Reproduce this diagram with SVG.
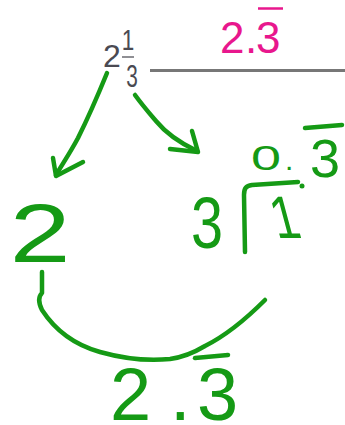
<svg xmlns="http://www.w3.org/2000/svg" width="345" height="425" viewBox="0 0 345 425">
<style>
.pen{fill:none;stroke:#159A15;stroke-width:4.5;stroke-linecap:round;stroke-linejoin:round}
.hw{font-family:"Liberation Sans",Arial,sans-serif;fill:#159A15}
.typed{font-family:"Liberation Sans",Arial,sans-serif;fill:#4a4a52}
.pink{font-family:"Liberation Sans",Arial,sans-serif;fill:#E8178D}
</style>
<rect width="345" height="425" fill="#ffffff"/>
<g id="header">
  <text class="typed" x="103" y="67" font-size="32">2</text>
  <text class="typed" x="128" y="50" font-size="30" text-anchor="middle" transform="translate(128 0) scale(0.75 1) translate(-128 0)">1</text>
  <line x1="122" y1="57" x2="134" y2="57" stroke="#6a6a70" stroke-width="1.5"/>
  <text class="typed" x="132" y="87" font-size="32" text-anchor="middle" transform="translate(132 0) scale(0.65 1) translate(-132 0)">3</text>
  <line x1="150" y1="70.5" x2="345" y2="70.5" stroke="#777777" stroke-width="3"/>
  <text class="pink" x="220 245 256" y="53" font-size="44">2.3</text>
  <line x1="258" y1="8.5" x2="283" y2="8.5" stroke="#E8178D" stroke-width="2.5"/>
</g>
<g id="connectors">
  <path class="pen" d="M107,73 C98,95 88,118 78,138 C70,153 63,163 56,175"/>
  <path class="pen" d="M53,158 L56,176 L83,162"/>
  <path class="pen" d="M135,95 C143,106 150,114 156,121 C165,132 180,143 197,151"/>
  <path class="pen" d="M192,131 L198,152 L170,149"/>
  <path class="pen" d="M42,272 L42,293 C38,297 38,302 42,310 C55,330 75,345 100,352 C125,359 150,361 170,359 C185,357 195,352 205,346 C225,336 245,320 265,300"/>
</g>
<g id="whole">
  <text class="hw" x="0" y="0" font-size="84" text-anchor="middle" transform="translate(40 262) scale(1.3 1)">2</text>
</g>
<g id="division">
  <text class="hw" x="207" y="248" font-size="72" text-anchor="middle" transform="translate(207 0) scale(0.8 1) translate(-207 0)">3</text>
  <path class="pen" d="M245,252 L244,195 C244,188 246,186 252,185 L298,182"/>
  <circle cx="302" cy="186" r="2.5" fill="#159A15"/>
  <text class="hw" x="0" y="0" font-size="60" text-anchor="middle" transform="translate(290 238) skewX(15) scale(0.8 1)">1</text>
  <text class="hw" x="0" y="0" font-size="36" transform="translate(251 170) scale(1.5 1)">0</text>
  <text class="hw" x="285" y="170" font-size="30">.</text>
  <path class="pen" d="M305,128 L342,125"/>
  <text class="hw" x="325" y="177" font-size="54" text-anchor="middle">3</text>
</g>
<g id="result">
  <path class="pen" d="M195,358 L228,355"/>
  <text class="hw" y="420" font-size="74" x="110 170 197">2.3</text>
</g>
</svg>
